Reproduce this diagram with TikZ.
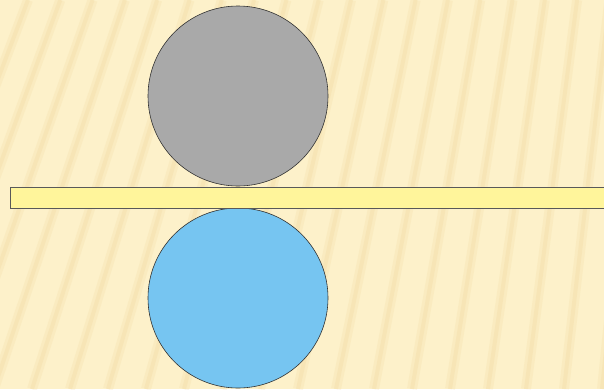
\documentclass[tikz,border=0pt]{standalone}
\begin{document}
\begin{tikzpicture}[x=1pt,y=-1pt,
  stripe/.style={line width=10pt,color=stripecol,opacity=0.18},
  stripecore/.style={line width=4pt,color=stripecol,opacity=0.22},
  ball/.style={draw=black!80,line width=0.6pt},
  barstyle/.style={draw=black!65,line width=0.9pt,fill=barcol}]
\definecolor{bgcol}{HTML}{FDF1CA}
\definecolor{stripecol}{HTML}{EDD395}
\definecolor{barcol}{HTML}{FFF59B}
\definecolor{graycol}{HTML}{A9A9A9}
\definecolor{bluecol}{HTML}{76C5F1}
\useasboundingbox (0,0) rectangle (604,389);
\fill[bgcol] (0,0) rectangle (604,389);
\begin{scope}
\clip (0,0) rectangle (604,389);
\foreach \b in {-120,-82,...,700}{
  \pgfmathsetmacro{\t}{\b+130-0.15*\b}
  \draw[stripe] (\b,389) -- (\t,0);
  \draw[stripecore] (\b,389) -- (\t,0);
}
\end{scope}
\draw[ball,fill=graycol] (238,96) circle (90);
\draw[ball,fill=bluecol] (238,298) circle (90);
\draw[barstyle] (10,187.5) rectangle (610,208);
\end{tikzpicture}
\end{document}
